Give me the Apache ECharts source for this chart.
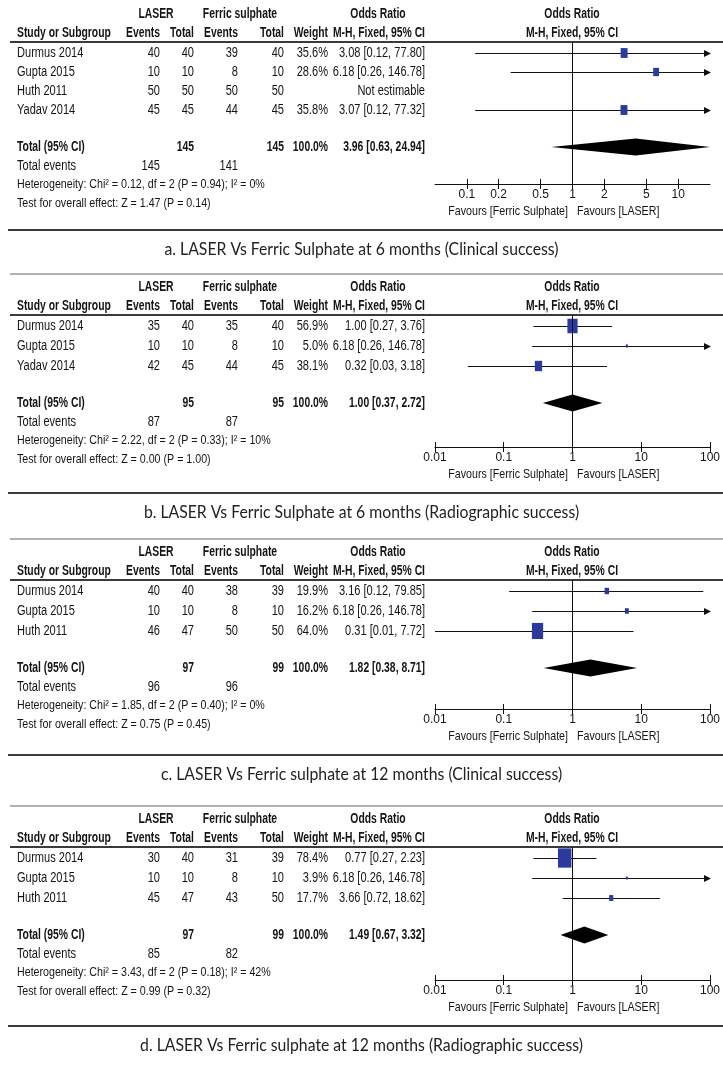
<!DOCTYPE html>
<html>
<head>
<meta charset="utf-8">
<script src="https://cdn.jsdelivr.net/npm/echarts@6/dist/echarts.min.js"></script>
<style>
html,body{margin:0;padding:0;background:#fff;}
#chart{width:723px;height:1069px;}
</style>
</head>
<body>
<div id="chart"></div>
<script>
// ---------------- DATA ----------------
const panelCaptions = [
  'a. LASER Vs Ferric Sulphate at 6 months (Clinical success)',
  'b. LASER Vs Ferric Sulphate at 6 months (Radiographic success)',
  'c. LASER Vs Ferric sulphate at 12 months (Clinical success)',
  'd. LASER Vs Ferric sulphate at 12 months (Radiographic success)'
];
const studyNames = [
  ['Durmus 2014', 'Gupta 2015', 'Huth 2011', 'Yadav 2014'],
  ['Durmus 2014', 'Gupta 2015', 'Yadav 2014'],
  ['Durmus 2014', 'Gupta 2015', 'Huth 2011'],
  ['Durmus 2014', 'Gupta 2015', 'Huth 2011']
];
const laserEvents = [[40, 10, 50, 45], [35, 10, 42], [40, 10, 46], [30, 10, 45]];
const laserTotals = [[40, 10, 50, 45], [40, 10, 45], [40, 10, 47], [40, 10, 47]];
const ferricEvents = [[39, 8, 50, 44], [35, 8, 44], [38, 8, 50], [31, 8, 43]];
const ferricTotals = [[40, 10, 50, 45], [40, 10, 45], [39, 10, 50], [39, 10, 50]];
const weights = [[35.6, 28.6, null, 35.8], [56.9, 5.0, 38.1], [19.9, 16.2, 64.0], [78.4, 3.9, 17.7]];
const oddsRatios = [[3.08, 6.18, null, 3.07], [1.00, 6.18, 0.32], [3.16, 6.18, 0.31], [0.77, 6.18, 3.66]];
const ciLower = [[0.12, 0.26, null, 0.12], [0.27, 0.26, 0.03], [0.12, 0.26, 0.01], [0.27, 0.26, 0.72]];
const ciUpper = [[77.80, 146.78, null, 77.32], [3.76, 146.78, 3.18], [79.85, 146.78, 7.72], [2.23, 146.78, 18.62]];
const pooledOR = [3.96, 1.00, 1.82, 1.49];
const pooledLower = [0.63, 0.37, 0.38, 0.67];
const pooledUpper = [24.94, 2.72, 8.71, 3.32];
const totalLaserN = [145, 95, 97, 97];
const totalFerricN = [145, 95, 99, 99];
const totalLaserEvents = [145, 87, 96, 85];
const totalFerricEvents = [141, 87, 96, 82];
const hetChi = ['0.12', '2.22', '1.85', '3.43'];
const hetDf = [2, 2, 2, 2];
const hetP = ['0.94', '0.33', '0.40', '0.18'];
const hetI2 = ['0%', '10%', '0%', '42%'];
const overallZ = ['1.47', '0.00', '0.75', '0.99'];
const overallP = ['0.14', '1.00', '0.45', '0.32'];
const axisMin = [0.05, 0.01, 0.01, 0.01];
const axisMax = [20, 100, 100, 100];
const axisTicks = [[0.1, 0.2, 0.5, 1, 2, 5, 10], [0.01, 0.1, 1, 10, 100], [0.01, 0.1, 1, 10, 100], [0.01, 0.1, 1, 10, 100]];
const tickLabels = [['0.1', '0.2', '0.5', '1', '2', '5', '10'], ['0.01', '0.1', '1', '10', '100'], ['0.01', '0.1', '1', '10', '100'], ['0.01', '0.1', '1', '10', '100']];

// ---------------- LAYOUT ----------------
const headerLineY = [42, 315, 580, 847];
const axisLineY = [184, 447, 709, 980];
const rowStep = [19, 20, 20, 20];
const COL = { study: 17, laserEv: 160, laserTot: 194, ferEv: 238, ferTot: 284, weight: 328, or: 425,
  laserHead: 156, ferHead: 240, orHead: 378, plotLeft: 435, plotRight: 710, plotCenter: 572 };
const FONT = '"Liberation Sans",Arial,sans-serif';
const NARROW = 0.79, NARROW_BOLD = 0.74;
const CAP_FONT = 'Lato,"Open Sans",sans-serif';
const TXT = '#141414';
const BLUE = '#2b3b9d';

const L10 = Math.log10;
const option = { animation: false, backgroundColor: '#fff', grid: [], xAxis: [], yAxis: [], series: [], graphic: [] };
const G = option.graphic;

function text(x, y, str, align, bold, size, family, color, sx) {
  G.push({ type: 'text', silent: true, x: x, y: y, scaleX: sx || (bold ? NARROW_BOLD : NARROW), style: {
    x: 0, y: 0, text: str, fill: color || TXT,
    font: (bold ? 'bold ' : '') + (size || 14) + 'px ' + (family || FONT),
    textAlign: align || 'left', textVerticalAlign: 'middle', align: align || 'left', verticalAlign: 'middle'
  }});
}
function hline(x1, x2, y, w, color) {
  G.push({ type: 'line', silent: true, shape: { x1: x1, y1: y, x2: x2, y2: y }, style: { stroke: color, lineWidth: w } });
}
const fmtOR = (o, l, h) => o.toFixed(2) + ' [' + l.toFixed(2) + ', ' + h.toFixed(2) + ']';

for (let p = 0; p < 4; p++) {
  const HL = headerLineY[p], AY = axisLineY[p], rs = rowStep[p];
  const n = studyNames[p].length;
  const rowOff = i => 11 + i * rs;
  const totOff = rowOff(n - 1) + 37;
  const xMin = L10(axisMin[p]), xMax = L10(axisMax[p]);
  const tv = axisTicks[p].map(L10);
  const fmt = v => { const k = tv.findIndex(t => Math.abs(t - v) < 1e-6); return k >= 0 ? tickLabels[p][k] : ''; };

  option.grid.push({ left: COL.plotLeft, width: COL.plotRight - COL.plotLeft, top: HL, height: AY - HL });
  option.xAxis.push({
    type: 'value', gridIndex: p, min: xMin, max: xMax, position: 'bottom',
    axisLine: { show: true, onZero: false, lineStyle: { color: '#111', width: 1 } },
    axisTick: { show: true, customValues: tv, inside: false, length: 5, lineStyle: { color: '#111', width: 1 } },
    axisLabel: { show: true, customValues: tv, formatter: fmt, margin: 5, fontSize: 12, color: TXT, fontFamily: FONT, showMinLabel: true, showMaxLabel: true },
    splitLine: { show: false }
  });
  option.xAxis.push({
    type: 'value', gridIndex: p, min: xMin, max: xMax, position: 'bottom',
    axisLine: { show: false, onZero: false },
    axisTick: { show: true, customValues: tv, inside: true, length: 5, lineStyle: { color: '#111', width: 1 } },
    axisLabel: { show: false }, splitLine: { show: false }
  });
  option.yAxis.push({ type: 'value', gridIndex: p, min: 0, max: AY - HL, inverse: true, show: false });

  const ciData = [];
  const sqData = [];
  for (let i = 0; i < n; i++) {
    if (oddsRatios[p][i] == null) continue;
    ciData.push([L10(ciLower[p][i]), L10(ciUpper[p][i]), rowOff(i)]);
    sqData.push([L10(oddsRatios[p][i]), rowOff(i), weights[p][i]]);
  }
  option.series.push({
    type: 'custom', xAxisIndex: 2 * p, yAxisIndex: p, data: ciData, encode: { x: [0, 1], y: 2 }, silent: true, z: 3,
    renderItem: (params, api) => {
      const lo = api.value(0), hi = api.value(1), y = api.value(2);
      const a = api.coord([Math.max(lo, xMin), y]);
      const b = api.coord([Math.min(hi, xMax), y]);
      const yy = Math.round(a[1]) + 0.5;
      const children = [{ type: 'line', shape: { x1: a[0], y1: yy, x2: b[0], y2: yy }, style: { stroke: '#111', lineWidth: 1 } }];
      if (hi > xMax) children.push({ type: 'polygon', shape: { points: [[b[0] + 1, yy], [b[0] - 6, yy - 3.5], [b[0] - 6, yy + 3.5]] }, style: { fill: '#111' } });
      if (lo < xMin) children.push({ type: 'polygon', shape: { points: [[a[0] - 1, yy], [a[0] + 6, yy - 3.5], [a[0] + 6, yy + 3.5]] }, style: { fill: '#111' } });
      return { type: 'group', children: children };
    }
  });
  option.series.push({
    type: 'scatter', xAxisIndex: 2 * p, yAxisIndex: p, data: sqData, symbol: 'rect', silent: true, z: 4,
    symbolSize: v => { const h = 2 + 0.22 * v[2]; return [Math.max(2, 0.7 * h), h]; },
    itemStyle: { color: BLUE, opacity: 1 },
    markLine: { silent: true, symbol: ['none', 'none'], label: { show: false }, animation: false,
      lineStyle: { color: '#111', width: 1, type: 'solid' }, data: [{ xAxis: 0 }] }
  });
  option.series.push({
    type: 'custom', xAxisIndex: 2 * p, yAxisIndex: p, silent: true, z: 5,
    data: [[L10(pooledLower[p]), L10(pooledOR[p]), L10(pooledUpper[p]), totOff]], encode: { x: [0, 1, 2], y: 3 },
    renderItem: (params, api) => {
      const y = api.value(3);
      const l = api.coord([Math.max(api.value(0), xMin), y]);
      const c = api.coord([api.value(1), y]);
      const r = api.coord([Math.min(api.value(2), xMax), y]);
      return { type: 'polygon', shape: { points: [[l[0], l[1]], [c[0], c[1] - 8.5], [r[0], r[1]], [c[0], c[1] + 8.5]] }, style: { fill: '#000' } };
    }
  });

  const h1 = HL - 28, h2 = HL - 9;
  if (p > 0) hline(10, 723, HL - 41, 1.2, '#666');
  hline(10, 723, HL, 2, '#3a3a3a');
  text(COL.laserHead, h1, 'LASER', 'center', true);
  text(COL.ferHead, h1, 'Ferric sulphate', 'center', true);
  text(COL.orHead, h1, 'Odds Ratio', 'center', true);
  text(COL.plotCenter, h1, 'Odds Ratio', 'center', true);
  text(COL.study, h2, 'Study or Subgroup', 'left', true);
  text(COL.laserEv, h2, 'Events', 'right', true);
  text(COL.laserTot, h2, 'Total', 'right', true);
  text(COL.ferEv, h2, 'Events', 'right', true);
  text(COL.ferTot, h2, 'Total', 'right', true);
  text(COL.weight, h2, 'Weight', 'right', true);
  text(COL.or, h2, 'M-H, Fixed, 95% CI', 'right', true);
  text(COL.plotCenter, h2, 'M-H, Fixed, 95% CI', 'center', true);

  for (let i = 0; i < n; i++) {
    const y = HL + rowOff(i);
    text(COL.study, y, studyNames[p][i], 'left');
    text(COL.laserEv, y, String(laserEvents[p][i]), 'right');
    text(COL.laserTot, y, String(laserTotals[p][i]), 'right');
    text(COL.ferEv, y, String(ferricEvents[p][i]), 'right');
    text(COL.ferTot, y, String(ferricTotals[p][i]), 'right');
    if (weights[p][i] != null) text(COL.weight, y, weights[p][i].toFixed(1) + '%', 'right');
    text(COL.or, y, oddsRatios[p][i] == null ? 'Not estimable' : fmtOR(oddsRatios[p][i], ciLower[p][i], ciUpper[p][i]), 'right');
  }
  const ty = HL + totOff;
  text(COL.study, ty, 'Total (95% CI)', 'left', true);
  text(COL.laserTot, ty, String(totalLaserN[p]), 'right', true);
  text(COL.ferTot, ty, String(totalFerricN[p]), 'right', true);
  text(COL.weight, ty, '100.0%', 'right', true);
  text(COL.or, ty, fmtOR(pooledOR[p], pooledLower[p], pooledUpper[p]), 'right', true);
  text(COL.study, ty + 19, 'Total events', 'left');
  text(COL.laserEv, ty + 19, String(totalLaserEvents[p]), 'right');
  text(COL.ferEv, ty + 19, String(totalFerricEvents[p]), 'right');
  text(COL.study, ty + 37, 'Heterogeneity: Chi\u00b2 = ' + hetChi[p] + ', df = ' + hetDf[p] + ' (P = ' + hetP[p] + '); I\u00b2 = ' + hetI2[p], 'left', false, 13.5);
  text(COL.study, ty + 56, 'Test for overall effect: Z = ' + overallZ[p] + ' (P = ' + overallP[p] + ')', 'left', false, 13.5);

  text(COL.plotCenter - 4, AY + 27, 'Favours [Ferric Sulphate]', 'right', false, 13.5);
  text(COL.plotCenter + 5, AY + 27, 'Favours [LASER]', 'left', false, 13.5);

  hline(8, 723, AY + 46, 2, '#3a3a3a');
  text(361.5, AY + 65, panelCaptions[p], 'center', false, 17.5, CAP_FONT, '#222', 0.9);
}

const chart = echarts.init(document.getElementById('chart'), null, { renderer: 'canvas' });
chart.setOption(option);
</script>
</body>
</html>
